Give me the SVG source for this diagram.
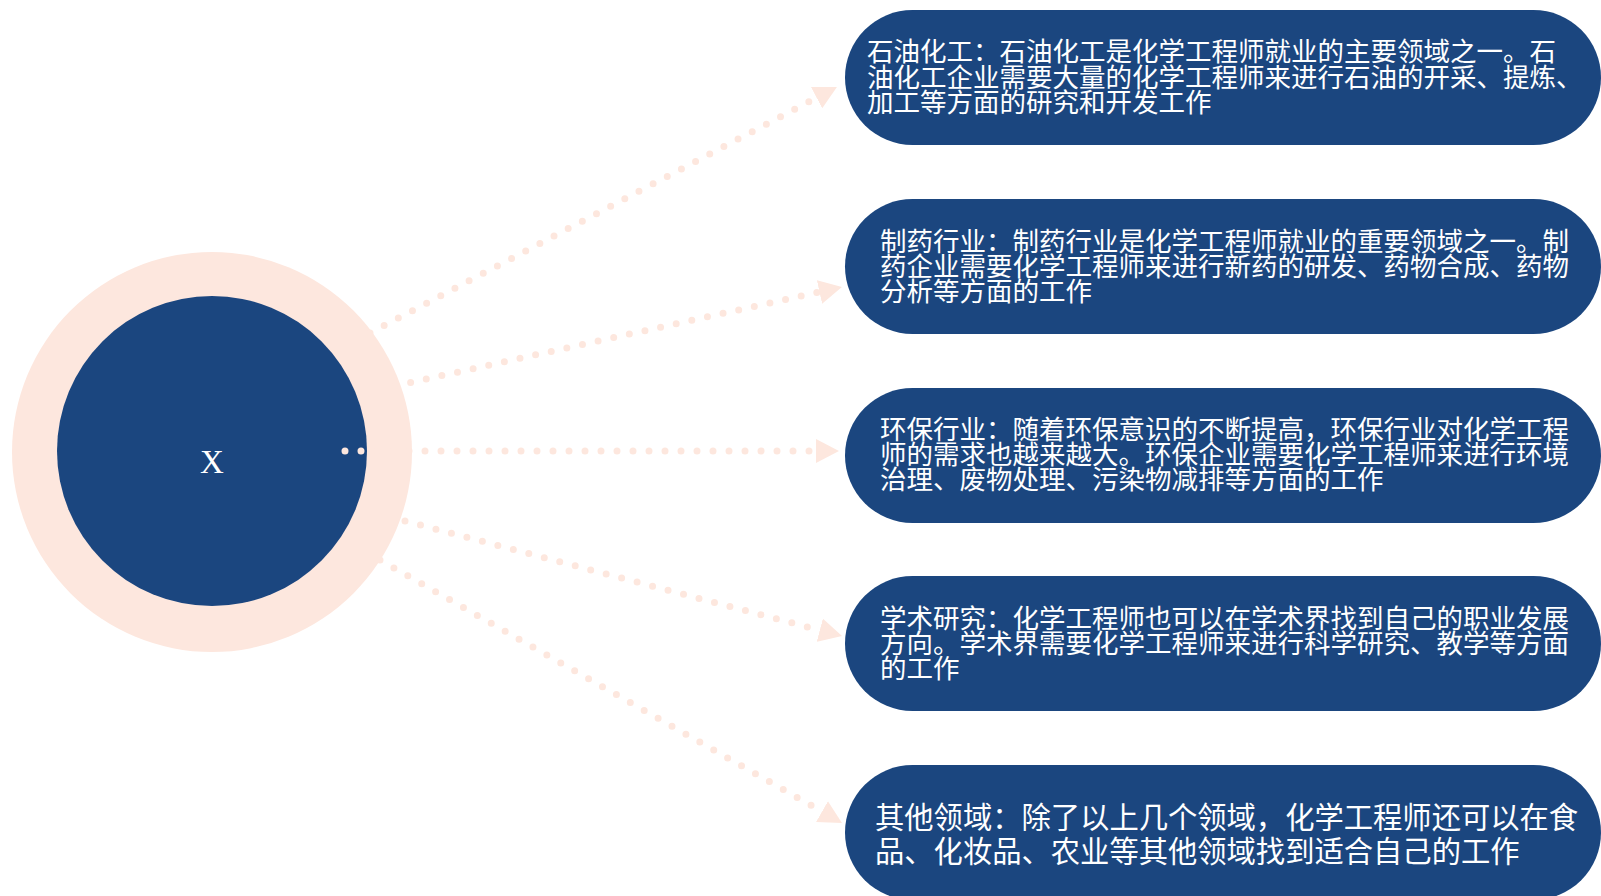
<svg xmlns="http://www.w3.org/2000/svg" width="1601" height="896" viewBox="0 0 1601 896">
<style>
.box{fill:#1b467f}
.t{fill:#ffffff;font-family:"Noto Sans CJK SC","Noto Sans",sans-serif;font-size:26.5px}
.t5{fill:#ffffff;font-family:"Noto Sans CJK SC","Noto Sans",sans-serif;font-size:29.3px}
.c{fill:none;stroke:#fde7de;stroke-width:7;stroke-linecap:round;stroke-dasharray:0 16}
</style>
<defs>
<marker id="arr" markerUnits="userSpaceOnUse" markerWidth="24" markerHeight="24" refX="0" refY="12" orient="auto" viewBox="0 0 24 24">
<path d="M0,0 L23,12 L0,24 Z" fill="#fde7de"/>
</marker>
</defs>
<g id="center">
<circle cx="212" cy="452" r="200" fill="#fde7de"/>
<circle cx="212" cy="451" r="155" fill="#1b467f"/>
<text x="212" y="473" text-anchor="middle" font-family="Liberation Serif, serif" font-size="33" fill="#ffffff">X</text>
</g>
<g id="connectors">
<line class="c" x1="370" y1="333" x2="816.6" y2="97.7" marker-end="url(#arr)"/>
<line class="c" x1="395" y1="386" x2="819.5" y2="292" marker-end="url(#arr)"/>
<line class="c" x1="345" y1="451" x2="816" y2="451" marker-end="url(#arr)"/>
<line class="c" x1="405" y1="521" x2="819.8" y2="630.2" marker-end="url(#arr)"/>
<line class="c" x1="380" y1="560" x2="822" y2="811.6" marker-end="url(#arr)"/>
</g>
<g id="node1">
<rect class="box" x="845" y="10" width="756" height="135" rx="67.5" ry="67.5"/>
<text class="t" x="867" y="61">石油化工：石油化工是化学工程师就业的主要领域之一。石</text>
<text class="t" x="867" y="86.5">油化工企业需要大量的化学工程师来进行石油的开采、提炼、</text>
<text class="t" x="867" y="112">加工等方面的研究和开发工作</text>
</g>
<g id="node2">
<rect class="box" x="845" y="199" width="756" height="135" rx="67.5" ry="67.5"/>
<text class="t" x="880" y="251">制药行业：制药行业是化学工程师就业的重要领域之一。制</text>
<text class="t" x="880" y="276">药企业需要化学工程师来进行新药的研发、药物合成、药物</text>
<text class="t" x="880" y="301">分析等方面的工作</text>
</g>
<g id="node3">
<rect class="box" x="845" y="388" width="756" height="135" rx="67.5" ry="67.5"/>
<text class="t" x="880" y="439">环保行业：随着环保意识的不断提高，环保行业对化学工程</text>
<text class="t" x="880" y="464">师的需求也越来越大。环保企业需要化学工程师来进行环境</text>
<text class="t" x="880" y="489">治理、废物处理、污染物减排等方面的工作</text>
</g>
<g id="node4">
<rect class="box" x="845" y="576" width="756" height="135" rx="67.5" ry="67.5"/>
<text class="t" x="880" y="628">学术研究：化学工程师也可以在学术界找到自己的职业发展</text>
<text class="t" x="880" y="653">方向。学术界需要化学工程师来进行科学研究、教学等方面</text>
<text class="t" x="880" y="678">的工作</text>
</g>
<g id="node5">
<rect class="box" x="845" y="765" width="756" height="135" rx="67.5" ry="67.5"/>
<text class="t5" x="875" y="828">其他领域：除了以上几个领域，化学工程师还可以在食</text>
<text class="t5" x="875" y="862">品、化妆品、农业等其他领域找到适合自己的工作</text>
</g>
</svg>
